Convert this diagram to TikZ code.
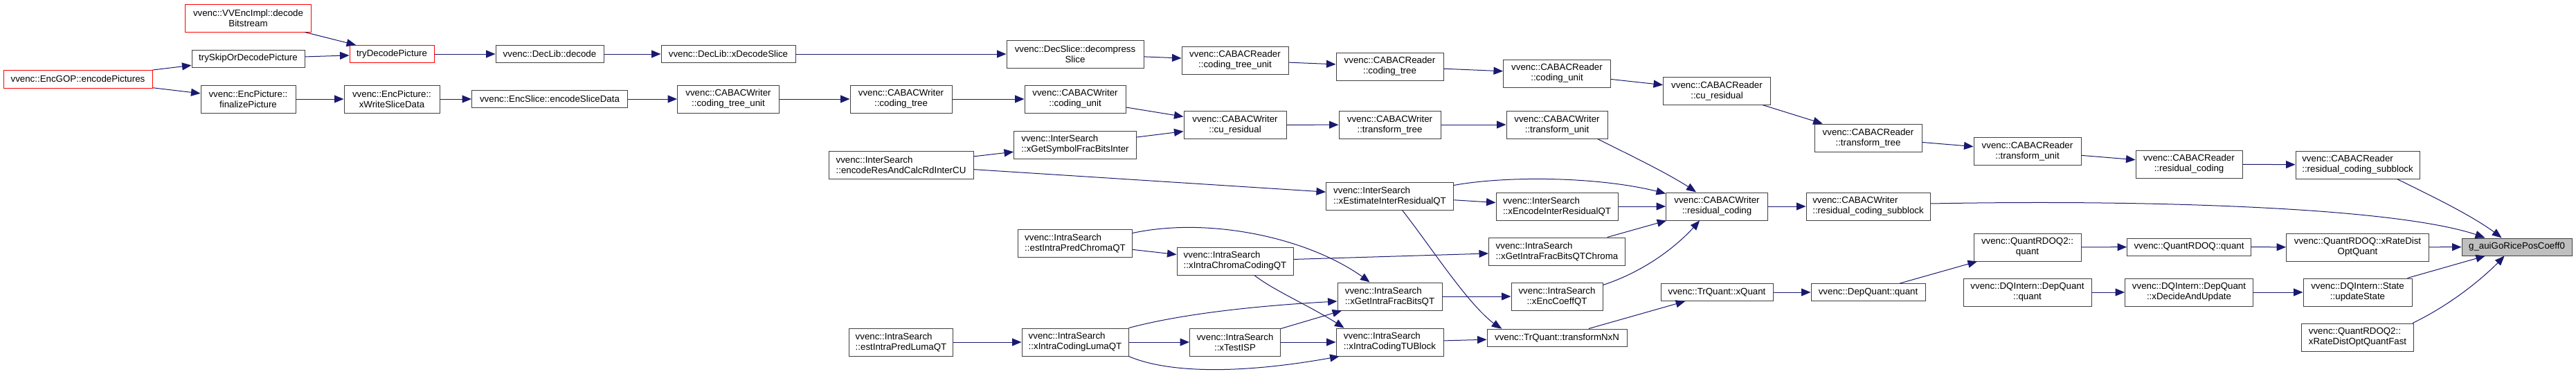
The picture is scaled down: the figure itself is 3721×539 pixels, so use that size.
\documentclass[tikz,border=0pt]{standalone}
\usepackage{fontspec}
\setmainfont{Liberation Sans}
\usetikzlibrary{arrows.meta,calc,bending}
\definecolor{edgeblue}{HTML}{191970}
\definecolor{nodeborder}{HTML}{404040}
\definecolor{targetfill}{HTML}{BFBFBF}
\begin{document}
\begin{tikzpicture}[x=1pt,y=-1pt,
  box/.style={draw=nodeborder, line width=1pt, fill=white, inner sep=0pt, align=center,
    font=\fontsize{13.3}{15}\selectfont},
  lbox/.style={box, align=left},
  redbox/.style={box, draw=red},
  tgt/.style={box, fill=targetfill},
  sz/.style 2 args={minimum width=#1pt, minimum height=#2pt},
  edge/.style={draw=edgeblue, line width=1pt, -{Triangle[length=13.5pt,width=11pt,bend]}},
]
\useasboundingbox (0,0) rectangle (3721,539);

% rank x = 112.5
\node[redbox, sz={215}{26}] (encgop) at (112.5,114) {vvenc::EncGOP::encodePictures};
% rank x = 358.5
\node[redbox, sz={182}{40}] (vvimpl) at (358.5,26) {vvenc::VVEncImpl::decode\\Bitstream};
\node[box, sz={163}{25}] (tryskip) at (358.5,84.5) {trySkipOrDecodePicture};
\node[box, sz={137}{40}] (finpic) at (358.5,143) {vvenc::EncPicture::\\finalizePicture};
% rank x = 566
\node[redbox, sz={122}{25}] (trydec) at (566,78) {tryDecodePicture};
\node[box, sz={138}{40}] (xwsd) at (566,143) {vvenc::EncPicture::\\xWriteSliceData};
% rank x = 794
\node[box, sz={156}{25}] (declibdec) at (794,78) {vvenc::DecLib::decode};
\node[box, sz={225}{25}] (encslice) at (794,143) {vvenc::EncSlice::encodeSliceData};
% rank x = 1052
\node[box, sz={194}{25}] (xdecslice) at (1052,78) {vvenc::DecLib::xDecodeSlice};
\node[box, sz={147}{40}] (wctu) at (1052,143) {vvenc::CABACWriter\\::coding\_tree\_unit};
% rank x = 1301.5
\node[box, sz={147}{40}] (wct) at (1301.5,143) {vvenc::CABACWriter\\::coding\_tree};
\node[lbox, sz={209}{40}] (erc) at (1301.5,238) {vvenc::InterSearch\\::encodeResAndCalcRdInterCU};
\node[lbox, sz={150}{40}] (estluma) at (1301.5,494) {vvenc::IntraSearch\\::estIntraPredLumaQT};
% rank x = 1553
\node[box, sz={198}{40}] (decomp) at (1553,78) {vvenc::DecSlice::decompress\\Slice};
\node[box, sz={146}{40}] (wcu) at (1553,143) {vvenc::CABACWriter\\::coding\_unit};
\node[lbox, sz={177}{40}] (xgsfbi) at (1553,209) {vvenc::InterSearch\\::xGetSymbolFracBitsInter};
\node[lbox, sz={165}{40}] (estchroma) at (1553,351) {vvenc::IntraSearch\\::estIntraPredChromaQT};
\node[lbox, sz={154}{40}] (xiluma) at (1553,494) {vvenc::IntraSearch\\::xIntraCodingLumaQT};
% rank x = 1784
\node[box, sz={154}{40}] (rctu) at (1784,87) {vvenc::CABACReader\\::coding\_tree\_unit};
\node[box, sz={148}{40}] (wcures) at (1784,180.5) {vvenc::CABACWriter\\::cu\_residual};
\node[lbox, sz={168}{40}] (xichroma) at (1784,377) {vvenc::IntraSearch\\::xIntraChromaCodingQT};
\node[box, sz={131}{40}] (xtestisp) at (1784,494) {vvenc::IntraSearch\\::xTestISP};
% rank x = 2007.5
\node[box, sz={155}{40}] (rct) at (2007.5,96) {vvenc::CABACReader\\::coding\_tree};
\node[box, sz={147}{40}] (wtt) at (2007.5,180) {vvenc::CABACWriter\\::transform\_tree};
\node[lbox, sz={184}{40}] (xeirqt) at (2007.5,283) {vvenc::InterSearch\\::xEstimateInterResidualQT};
\node[lbox, sz={151}{40}] (xgifbqt) at (2007.5,428) {vvenc::IntraSearch\\::xGetIntraFracBitsQT};
\node[lbox, sz={155}{40}] (xictub) at (2007.5,494) {vvenc::IntraSearch\\::xIntraCodingTUBlock};
% rank x = 2249
\node[box, sz={155}{40}] (rcu) at (2249,106) {vvenc::CABACReader\\::coding\_unit};
\node[box, sz={146}{40}] (wtu) at (2249,180) {vvenc::CABACWriter\\::transform\_unit};
\node[lbox, sz={176}{40}] (xencirqt) at (2249,298) {vvenc::InterSearch\\::xEncodeInterResidualQT};
\node[lbox, sz={197}{40}] (xgifbqtc) at (2249,363) {vvenc::IntraSearch\\::xGetIntraFracBitsQTChroma};
\node[box, sz={132}{40}] (xenccoeff) at (2249,428) {vvenc::IntraSearch\\::xEncCoeffQT};
\node[box, sz={202}{25}] (tnxn) at (2249,487.5) {vvenc::TrQuant::transformNxN};
% rank x = 2480
\node[box, sz={155}{40}] (rcures) at (2480,131) {vvenc::CABACReader\\::cu\_residual};
\node[box, sz={147}{40}] (wrc) at (2480,298) {vvenc::CABACWriter\\::residual\_coding};
\node[box, sz={162}{25}] (xquant) at (2480,422) {vvenc::TrQuant::xQuant};
% rank x = 2698.5
\node[box, sz={155}{40}] (rtt) at (2698.5,199) {vvenc::CABACReader\\::transform\_tree};
\node[lbox, sz={179}{40}] (wrcsb) at (2698.5,298) {vvenc::CABACWriter\\::residual\_coding\_subblock};
\node[box, sz={165}{25}] (depquant) at (2698.5,422) {vvenc::DepQuant::quant};
% rank x = 2928.5
\node[box, sz={155}{40}] (rtu) at (2928.5,218) {vvenc::CABACReader\\::transform\_unit};
\node[box, sz={155}{40}] (q2quant) at (2928.5,357) {vvenc::QuantRDOQ2::\\quant};
\node[box, sz={185}{40}] (dqquant) at (2928.5,422) {vvenc::DQIntern::DepQuant\\::quant};
% rank x = 3162
\node[box, sz={154}{40}] (rrc) at (3162,237) {vvenc::CABACReader\\::residual\_coding};
\node[box, sz={179}{25}] (rdoqquant) at (3162,356.5) {vvenc::QuantRDOQ::quant};
\node[box, sz={185}{40}] (xdau) at (3162,422) {vvenc::DQIntern::DepQuant\\::xDecideAndUpdate};
% rank x = 3405.5
\node[lbox, sz={179}{40}] (rrcsb) at (3405.5,238) {vvenc::CABACReader\\::residual\_coding\_subblock};
\node[box, sz={206}{40}] (xrdoq) at (3405.5,357) {vvenc::QuantRDOQ::xRateDist\\OptQuant};
\node[box, sz={157}{40}] (upd) at (3405.5,422) {vvenc::DQIntern::State\\::updateState};
\node[lbox, sz={162}{40}] (xrdoqf) at (3405.5,487) {vvenc::QuantRDOQ2::\\xRateDistOptQuantFast};
% target
\node[tgt, sz={159}{25}] (target) at (3635.5,356.5) {g\_auiGoRicePosCoeff0};

% edges
\draw[edge] (vvimpl) -- (trydec);
\draw[edge] (tryskip) -- (trydec);
\draw[edge] (encgop) -- (tryskip);
\draw[edge] (encgop) -- (finpic);
\draw[edge] (finpic) -- (xwsd);
\draw[edge] (trydec) -- (declibdec);
\draw[edge] (declibdec) -- (xdecslice);
\draw[edge] (xdecslice) -- (decomp);
\draw[edge] (decomp) -- (rctu);
\draw[edge] (rctu) -- (rct);
\draw[edge] (rct) -- (rcu);
\draw[edge] (rcu) -- (rcures);
\draw[edge] (rcures) -- (rtt);
\draw[edge] (rtt) -- (rtu);
\draw[edge] (rtu) -- (rrc);
\draw[edge] (rrc) -- (rrcsb);
\draw[edge] ($(rrcsb.south east)+(-33,0)$) .. controls (3510,282) and (3580,315) .. ($(target.north west)+(58,0)$);
\draw[edge] (xwsd) -- (encslice);
\draw[edge] (encslice) -- (wctu);
\draw[edge] (wctu) -- (wct);
\draw[edge] (wct) -- (wcu);
\draw[edge] (wcu) -- (wcures);
\draw[edge] (xgsfbi) -- (wcures);
\draw[edge] (erc) -- (xgsfbi);
\draw[edge] (erc) -- (xeirqt);
\draw[edge] (wcures) -- (wtt);
\draw[edge] (wtt) -- (wtu);
\draw[edge] ($(wtu.south east)+(-15,0)$) .. controls (2350,222) and (2420,255) .. ($(wrc.north west)+(44,0)$);
\draw[edge] ($(xeirqt.north east)+(0,5)$) .. controls (2180,253) and (2320,255) .. ($(wrc.north west)+(0,2)$);
\draw[edge] (xeirqt) -- (xencirqt);
\draw[edge] (xencirqt) -- (wrc);
\draw[edge] (xgifbqtc) -- (wrc);
\draw[edge] ($(xenccoeff.north east)+(0,4)$) .. controls (2375,392) and (2425,355) .. ($(wrc.south west)+(49,0)$);
\draw[edge] (xgifbqt) -- (xenccoeff);
\draw[edge] (xictub) -- (tnxn);
\draw[edge] (tnxn) -- (xquant);
\draw[edge] ($(xeirqt.south)+(18,0)$) .. controls (2070,360) and (2130,455) .. ($(tnxn.north west)+(22,0)$);
\draw[edge] (xichroma) -- (xgifbqtc);
\draw[edge] (estchroma) -- (xichroma);
\draw[edge] ($(estchroma.north east)+(0,6)$) .. controls (1750,312) and (1900,345) .. ($(xgifbqt.north west)+(47,0)$);
\draw[edge] ($(xichroma.south)+(28,0)$) .. controls (1840,420) and (1900,445) .. ($(xictub.north west)+(12,0)$);
\draw[edge] (xiluma.north east) .. controls (1700,455) and (1800,442) .. ($(xgifbqt.west)+(0,7)$);
\draw[edge] (xtestisp) -- (xgifbqt);
\draw[edge] (xtestisp) -- (xictub);
\draw[edge] (xiluma) -- (xtestisp);
\draw[edge] (xiluma.south east) .. controls (1690,540) and (1800,540) .. ($(xictub.south west)+(5,0)$);
\draw[edge] (estluma) -- (xiluma);
\draw[edge] (xquant) -- (depquant);
\draw[edge] (depquant) -- (q2quant);
\draw[edge] (q2quant) -- (rdoqquant);
\draw[edge] (rdoqquant) -- (xrdoq);
\draw[edge] (xrdoq) -- (target);
\draw[edge] (dqquant) -- (xdau);
\draw[edge] (xdau) -- (upd);
\draw[edge] (upd) -- (target);
\draw[edge] ($(xrdoqf.north east)+(-2,0)$) .. controls (3540,440) and (3590,400) .. ($(target.south west)+(62,0)$);
\draw[edge] (wrc) -- (wrcsb);
\draw[edge] ($(wrcsb.east)+(0,-4)$) .. controls (3000,290) and (3200,294) .. (3350,305) .. controls (3470,314) and (3550,327) .. ($(target.north west)+(34,0)$);
\end{tikzpicture}
\end{document}
